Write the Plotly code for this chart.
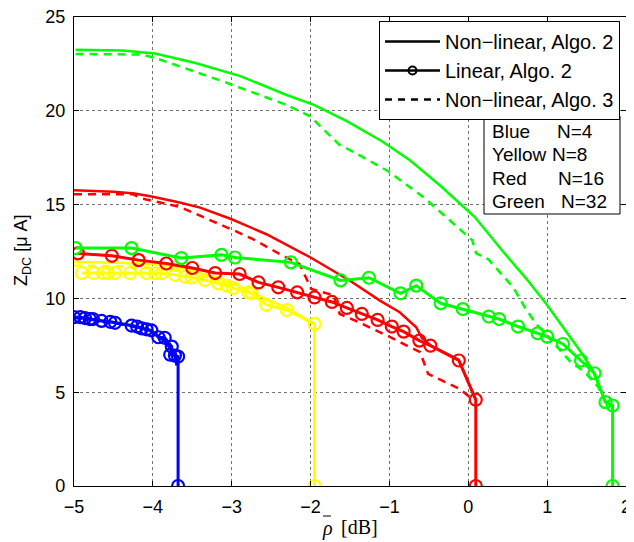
import plotly.graph_objects as go

# ---------------- data ----------------
blue_lin_x = [-5.0, -4.92, -4.86, -4.80, -4.76, -4.65, -4.54, -4.48, -4.27, -4.20, -4.14, -4.08, -4.02, -3.93, -3.85, -3.76, -3.78, -3.72, -3.68, -3.68]
blue_lin_y = [9.0, 9.0, 8.95, 8.9, 8.9, 8.8, 8.75, 8.7, 8.55, 8.5, 8.4, 8.35, 8.3, 7.93, 7.9, 7.43, 7.0, 6.95, 6.9, 0.0]
blue_nl_x = [-5.0, -4.8, -4.5, -4.27, -4.05, -3.93, -3.8, -3.72, -3.70]
blue_nl_y = [9.0, 8.92, 8.72, 8.55, 8.32, 8.0, 7.5, 7.0, 6.42]
blue_nl3_x = [-5.0, -4.8, -4.5, -4.27, -4.05, -3.93, -3.8, -3.72, -3.70]
blue_nl3_y = [8.95, 8.88, 8.7, 8.52, 8.3, 7.98, 7.45, 6.98, 6.45]

yellow_lin_x = [-4.90, -4.75, -4.63, -4.57, -4.48, -4.29, -4.08, -3.97, -3.89, -3.72, -3.59, -3.51, -3.34, -3.17, -3.06, -2.98, -2.79, -2.75, -2.56, -2.30, -1.95, -1.95]
yellow_lin_y = [11.35, 11.35, 11.35, 11.35, 11.35, 11.35, 11.35, 11.34, 11.34, 11.26, 11.15, 11.12, 10.98, 10.8, 10.68, 10.55, 10.32, 10.27, 9.66, 9.38, 8.64, 0.0]
yellow_nl_x = [-5.0, -4.5, -4.0, -3.66, -3.4, -3.05, -2.77, -2.5, -2.28, -1.95]
yellow_nl_y = [11.95, 11.92, 11.85, 11.65, 11.35, 10.95, 10.35, 9.85, 9.45, 8.64]
yellow_nl3_x = [-5.0, -4.5, -4.0, -3.66, -3.4, -3.05, -2.77, -2.5, -2.28, -1.95]
yellow_nl3_y = [11.75, 11.72, 11.6, 11.45, 11.2, 10.85, 10.3, 9.8, 9.4, 8.6]

red_lin_x = [-4.95, -4.52, -4.18, -3.83, -3.50, -3.21, -2.90, -2.66, -2.41, -2.17, -1.95, -1.73, -1.54, -1.35, -1.15, -0.97, -0.82, -0.62, -0.48, -0.12, 0.095, 0.095]
red_lin_y = [12.4, 12.27, 12.04, 11.86, 11.62, 11.35, 11.30, 10.85, 10.59, 10.32, 10.05, 9.81, 9.49, 9.17, 8.85, 8.50, 8.23, 7.75, 7.48, 6.69, 4.6, 0.0]
red_nl_x = [-5.0, -4.5, -4.23, -4.0, -3.66, -3.4, -3.0, -2.56, -2.0, -1.5, -1.12, -0.87, -0.66, -0.59, -0.48, -0.12, 0.095]
red_nl_y = [15.77, 15.68, 15.59, 15.42, 15.11, 14.84, 14.22, 13.42, 12.18, 10.94, 9.88, 9.26, 8.46, 7.9, 7.5, 6.72, 4.6]
red_nl3_x = [-5.0, -4.25, -4.15, -3.66, -2.96, -2.73, -2.39, -2.14, -1.99, -1.71, -1.63, -1.38, -0.99, -0.61, -0.51, -0.11, 0.06]
red_nl3_y = [15.55, 15.55, 15.34, 14.88, 13.6, 13.16, 12.36, 11.83, 10.5, 10.17, 9.17, 8.72, 7.93, 7.13, 5.98, 5.18, 4.6]

green_lin_x = [-4.98, -4.27, -3.64, -3.13, -2.96, -2.25, -1.62, -1.26, -0.86, -0.66, -0.35, -0.07, 0.26, 0.39, 0.63, 0.88, 1.0, 1.20, 1.43, 1.60, 1.74, 1.83, 1.83]
green_lin_y = [12.68, 12.68, 12.15, 12.32, 12.18, 11.92, 10.96, 11.1, 10.27, 10.68, 9.74, 9.43, 9.03, 8.9, 8.5, 8.14, 7.96, 7.57, 6.69, 6.01, 4.47, 4.29, 0.0]
green_nl_x = [-4.98, -4.39, -3.97, -3.46, -2.89, -2.32, -1.95, -1.54, -1.10, -0.74, -0.35, 0.08, 0.44, 0.74, 0.99, 1.43, 1.58, 1.74, 1.83]
green_nl_y = [23.26, 23.21, 23.05, 22.55, 21.85, 20.87, 20.3, 19.45, 18.39, 17.36, 15.99, 14.35, 12.5, 11.03, 9.7, 7.13, 6.15, 4.47, 4.29]
green_nl3_x = [-4.98, -4.15, -3.97, -3.12, -2.32, -2.01, -1.64, -1.44, -1.02, -0.56, 0.05, 0.10, 0.25, 0.57, 0.72, 0.86, 1.30, 1.47, 1.65, 1.74]
green_nl3_y = [23.03, 23.0, 22.82, 21.58, 20.34, 19.72, 18.21, 17.77, 16.79, 15.37, 13.1, 12.4, 12.1, 10.59, 9.5, 8.64, 6.6, 6.1, 5.27, 4.47]

legend_names = ["Non\u2212linear, Algo. 2", "Linear, Algo. 2", "Non\u2212linear, Algo. 3"]
info_names = ["Blue", "Yellow", "Red", "Green"]
info_values = ["N=4", "N=8", "N=16", "N=32"]
x_ticks = [-5, -4, -3, -2, -1, 0, 1, 2]
y_ticks = [0, 5, 10, 15, 20, 25]
x_title_sym = "<i>\u03c1</i>"
x_title_unit = "[dB]"
y_title = "Z<sub>DC</sub> [\u03bc A]"

# ---------------- figure ----------------
FONT = "Liberation Sans, Arial, Helvetica, sans-serif"
SERIF = "Liberation Serif, DejaVu Serif, serif"
series = [
    ("#0000ff", blue_nl_x, blue_nl_y, blue_nl3_x, blue_nl3_y, blue_lin_x, blue_lin_y),
    ("#ffff00", yellow_nl_x, yellow_nl_y, yellow_nl3_x, yellow_nl3_y, yellow_lin_x, yellow_lin_y),
    ("#ff0000", red_nl_x, red_nl_y, red_nl3_x, red_nl3_y, red_lin_x, red_lin_y),
    ("#00ff00", green_nl_x, green_nl_y, green_nl3_x, green_nl3_y, green_lin_x, green_lin_y),
]

fig = go.Figure()
for col, nx, ny, dx, dy, lx, ly in series:
    fig.add_trace(go.Scatter(x=nx, y=ny, mode="lines", line=dict(color=col, width=2.5),
                             showlegend=False, hoverinfo="skip"))
    fig.add_trace(go.Scatter(x=dx, y=dy, mode="lines", line=dict(color=col, width=2.5, dash="8px,6px"),
                             showlegend=False, hoverinfo="skip"))
    fig.add_trace(go.Scatter(x=lx, y=ly, mode="lines+markers", line=dict(color=col, width=3),
                             marker=dict(symbol="circle-open", size=12, color=col, line=dict(width=2.2)),
                             showlegend=False, hoverinfo="skip"))

# legend entries
fig.add_trace(go.Scatter(x=[None], y=[None], mode="lines", name=legend_names[0],
                         line=dict(color="black", width=2.5)))
fig.add_trace(go.Scatter(x=[None], y=[None], mode="lines+markers", name=legend_names[1],
                         line=dict(color="black", width=2.5),
                         marker=dict(symbol="circle-open", size=8, color="black", line=dict(width=2))))
fig.add_trace(go.Scatter(x=[None], y=[None], mode="lines", name=legend_names[2],
                         line=dict(color="black", width=2.5, dash="7px,6px")))

# page pixel geometry (the page body adds an 8px offset)
OFF = 8
L, R, T, B = 74, 626, 17, 486
W, H = R - L, B - T
FIG_W, FIG_H = 634 - OFF, 542 - OFF
def px2x(p):
    return (p - L) / W
def py2y(p):
    return (B - p) / H

# info box
fig.add_shape(type="rect", xref="paper", yref="paper",
              x0=px2x(484), x1=px2x(620), y0=py2y(214), y1=py2y(116),
              line=dict(color="black", width=1), fillcolor="white", layer="above")
rows_y = [131, 154.5, 178, 201.5]
val_x = [555, 550, 556, 559]
for i, (nm, val) in enumerate(zip(info_names, info_values)):
    fig.add_annotation(xref="paper", yref="paper", x=px2x(490), y=py2y(rows_y[i]),
                       text=nm, showarrow=False, xanchor="left", yanchor="middle",
                       font=dict(family=FONT, size=19, color="black"))
    fig.add_annotation(xref="paper", yref="paper", x=px2x(val_x[i]), y=py2y(rows_y[i]),
                       text=val, showarrow=False, xanchor="left", yanchor="middle",
                       font=dict(family=FONT, size=19, color="black"))

# axis titles (rho with an overbar drawn as a short line)
fig.add_annotation(xref="paper", yref="paper", x=px2x(327), y=py2y(528),
                   text=x_title_sym, showarrow=False, xanchor="center", yanchor="middle",
                   font=dict(family=SERIF, size=20, color="black"))
fig.add_shape(type="line", xref="paper", yref="paper",
              x0=px2x(323), x1=px2x(331), y0=py2y(516), y1=py2y(516),
              line=dict(color="black", width=1))
fig.add_annotation(xref="paper", yref="paper", x=px2x(339), y=py2y(527),
                   text=x_title_unit, showarrow=False, xanchor="left", yanchor="middle",
                   font=dict(family=SERIF, size=20, color="black"))
fig.add_annotation(xref="paper", yref="paper", x=px2x(22), y=py2y(250),
                   text=y_title, showarrow=False, xanchor="center", yanchor="middle",
                   textangle=-90, font=dict(family=FONT, size=18, color="black"))

axis_common = dict(showline=True, linecolor="black", linewidth=1.2, mirror="ticks",
                   ticks="inside", ticklen=5, tickcolor="black", automargin=False,
                   ticklabeloverflow="allow",
                   showgrid=True, gridcolor="rgba(0,0,0,0.55)", griddash="dot", gridwidth=1,
                   zeroline=False, tickfont=dict(family=FONT, size=18, color="black"))

fig.update_layout(
    width=FIG_W, height=FIG_H,
    margin=dict(l=L - OFF, r=FIG_W - (R - OFF), t=T - OFF, b=FIG_H - (B - OFF)),
    paper_bgcolor="white", plot_bgcolor="white",
    xaxis=dict(range=[-5, 2], tickvals=x_ticks,
               ticktext=[str(v).replace("-", "\u2212") for v in x_ticks],
               ticklabelstandoff=4, **axis_common),
    yaxis=dict(range=[0, 25], tickvals=y_ticks, ticklabelstandoff=4, **axis_common),
    legend=dict(x=px2x(620), y=py2y(21), xanchor="right", yanchor="top",
                bgcolor="white", bordercolor="black", borderwidth=1,
                font=dict(family=FONT, size=20, color="black"),
                itemwidth=55, tracegroupgap=0),
    showlegend=True,
)

fig.write_html("out.html")
